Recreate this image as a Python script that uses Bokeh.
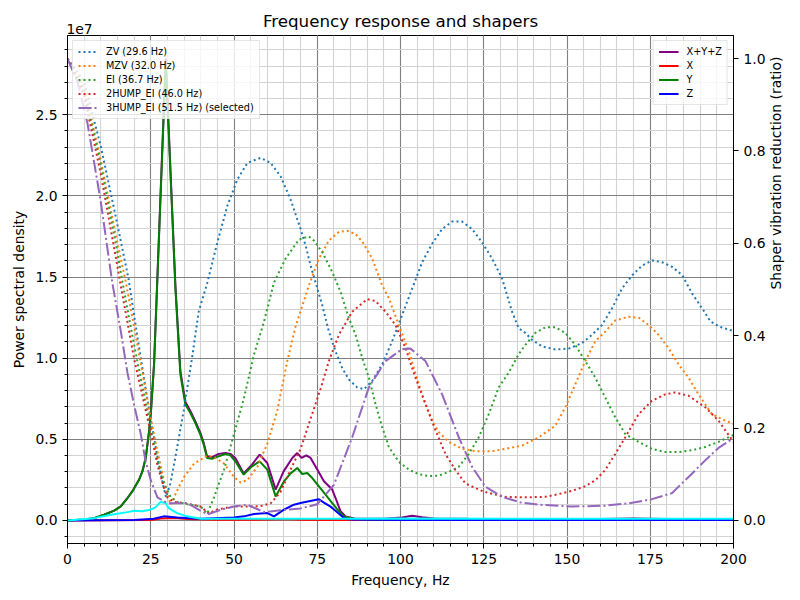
import math
from bokeh.plotting import figure
from bokeh.models import (Range1d, LinearAxis, Legend, LegendItem, SingleIntervalTicker,
                          NumeralTickFormatter, FixedTicker, CustomJSTickFormatter)
from bokeh.embed import file_html
from bokeh.resources import INLINE

FONT = "DejaVu Sans"

# ---------------- PSD data (units of 1e7) ----------------
f_xyz = [0, 5, 8, 11, 14, 16, 18, 19.5, 21.5, 22.5, 23.5, 24.5, 25, 26, 29.5, 32.4, 33.9, 35.4,
         36.9, 38.4, 39.9, 40.9, 41.9, 43.4, 45.4, 47.4, 48.9, 50.4, 52.9, 55.4, 57.7, 60, 62.5,
         64.9, 67.5, 69, 70.3, 71.7, 73, 75, 77, 79.5, 80.5, 82, 83.5, 86.5, 95, 100.5, 103.5,
         106.5, 110, 120, 140, 160, 170, 180, 200]
v_xyz = [0, 0.005, 0.014, 0.035, 0.06, 0.086, 0.138, 0.18, 0.252, 0.303, 0.387, 0.551, 0.655,
         0.968, 2.846, 1.45, 0.92, 0.73, 0.675, 0.61, 0.54, 0.478, 0.395, 0.39, 0.41, 0.415, 0.41,
         0.385, 0.29, 0.344, 0.405, 0.354, 0.19, 0.302, 0.385, 0.415, 0.385, 0.401, 0.385, 0.313,
         0.241, 0.19, 0.138, 0.056, 0.025, 0.01, 0.01, 0.018, 0.029, 0.02, 0.012, 0.01, 0.008,
         0.008, 0.012, 0.008, 0.006]

f_x = [0, 25, 28, 32, 36, 45, 55, 60, 66, 70, 80, 100, 110, 120, 130, 150, 165, 170, 175, 200]
v_x = [0, 0.002, 0.012, 0.015, 0.008, 0.004, 0.004, 0.005, 0.008, 0.004, 0.003, 0.004, 0.006,
       0.008, 0.005, 0.004, 0.007, 0.01, 0.004, 0.003]

f_y = [0, 5, 8, 11, 14, 16, 18, 19.5, 21.5, 22.5, 23.5, 24.5, 25, 26, 29.5, 32.4, 33.9, 35.4,
       36.9, 38.4, 39.9, 40.9, 41.9, 43.4, 45.4, 47.4, 48.9, 50.4, 52.9, 55.4, 57.7, 60, 62.5,
       65, 67, 69, 70.5, 72, 73.5, 75.5, 77.5, 79.5, 81.5, 83, 85.5, 90, 100, 120, 150, 200]
v_y = [0, 0.005, 0.014, 0.035, 0.06, 0.086, 0.138, 0.179, 0.251, 0.302, 0.385, 0.549, 0.652,
       0.961, 2.82, 1.43, 0.9, 0.714, 0.662, 0.6, 0.529, 0.467, 0.385, 0.38, 0.395, 0.409, 0.401,
       0.364, 0.282, 0.333, 0.364, 0.313, 0.148, 0.24, 0.29, 0.323, 0.286, 0.292, 0.261, 0.21,
       0.159, 0.107, 0.056, 0.025, 0.01, 0.006, 0.005, 0.004, 0.003, 0.003]

f_z = [0, 20, 25.9, 28.9, 32.9, 40, 50, 53, 56, 60, 62, 65, 68, 70, 72.5, 75.5, 77, 79, 81, 83,
       85, 100, 200]
v_z = [0, 0.002, 0.01, 0.025, 0.018, 0.01, 0.018, 0.025, 0.039, 0.045, 0.025, 0.066, 0.097,
       0.107, 0.118, 0.13, 0.11, 0.085, 0.05, 0.015, 0.005, 0.003, 0.002]

f_after = [0, 8, 13, 18, 20, 22.4, 24.9, 26.4, 27.9, 29.4, 30.4, 32.9, 35.9, 40, 60, 80, 100,
           150, 200]
v_after = [0, 0.014, 0.035, 0.051, 0.06, 0.056, 0.066, 0.08, 0.113, 0.107, 0.076, 0.045, 0.025,
           0.01, 0.01, 0.01, 0.012, 0.01, 0.01]

# ---------------- Shaper responses (ratio) ----------------
f_zv = [0, 5, 10, 15, 18.3, 20.9, 23.4, 25.4, 27.4, 28.9, 29.6, 30.9, 32.4, 34.9, 37.4, 39.4,
        42, 45, 48, 51, 54, 58, 61, 64, 67, 70, 71.5, 73, 74.5, 76.5, 78.5, 80.5, 82.5, 84.5,
        87, 89, 91.5, 94.5, 97.5, 100.5, 103.5, 106.5, 109.5, 112.5, 115.5, 118.5, 121.5,
        124.5, 127.5, 130.5, 133.5, 135.5, 137.5, 139.5, 142.5, 146.5, 150.5, 154.5, 157.5,
        160.5, 163.5, 166.5, 169.6, 172.6, 175.6, 178.6, 181.6, 184.6, 187.6, 190.6, 193.1,
        195.6, 198.6, 200]
r_zv = [1.0, 0.95, 0.81, 0.64, 0.524, 0.402, 0.288, 0.202, 0.123, 0.07, 0.05, 0.08, 0.137,
        0.238, 0.352, 0.452, 0.515, 0.602, 0.681, 0.738, 0.774, 0.785, 0.774, 0.745, 0.695,
        0.631, 0.595, 0.552, 0.515, 0.466, 0.409, 0.366, 0.33, 0.305, 0.288, 0.284, 0.302,
        0.338, 0.388, 0.445, 0.502, 0.559, 0.599, 0.631, 0.647, 0.647, 0.631, 0.602, 0.567,
        0.524, 0.452, 0.416, 0.406, 0.391, 0.377, 0.37, 0.372, 0.384, 0.402, 0.423, 0.459,
        0.502, 0.531, 0.552, 0.563, 0.559, 0.549, 0.531, 0.491, 0.459, 0.431, 0.42, 0.413,
        0.41]

f_mzv = [0, 5, 10, 15, 17.4, 20, 22.5, 25, 27, 29, 31, 33, 35, 38, 42, 44, 47, 50, 52, 54, 57,
         60, 63, 66, 68.5, 72.5, 75.5, 78.5, 81.5, 84, 86.5, 88.5, 91.5, 94.5, 96.5, 99.5, 102.5,
         105.5, 107.5, 109.5, 111.5, 114.5, 118.5, 122.5, 127.5, 131.5, 136.5, 141.5, 146.5,
         149.5, 152.5, 155.5, 158.5, 161.5, 164.5, 168.5, 171.5, 174.5, 177.5, 180.5, 183.5,
         186.5, 189.5, 193.5, 197.5, 200]
r_mzv = [1.0, 0.94, 0.78, 0.6, 0.52, 0.42, 0.32, 0.22, 0.15, 0.085, 0.034, 0.066, 0.094, 0.123,
         0.14, 0.137, 0.123, 0.094, 0.082, 0.087, 0.116, 0.166, 0.238, 0.345, 0.42, 0.509,
         0.567, 0.606, 0.625, 0.627, 0.62, 0.604, 0.567, 0.509, 0.481, 0.423, 0.366, 0.295,
         0.252, 0.216, 0.191, 0.17, 0.155, 0.15, 0.15, 0.155, 0.162, 0.18, 0.205, 0.245, 0.295,
         0.345, 0.388, 0.409, 0.433, 0.441, 0.439, 0.423, 0.402, 0.373, 0.338, 0.309, 0.273,
         0.23, 0.216, 0.209]

f_ei = [0, 5, 10, 15, 16.4, 20, 22.5, 25, 27, 29, 31, 33, 36, 40, 42, 44, 47, 50, 53, 56, 59,
        62, 65.5, 69.5, 72.5, 74, 76.5, 79.5, 82, 84.5, 86.5, 88.5, 90.5, 92.5, 94.5, 96.5,
        99.5, 102.5, 105.5, 108.5, 111.5, 114.5, 117.5, 120.5, 123.5, 126.5, 129.5, 132.5,
        135.5, 137.5, 140.5, 143.5, 146.5, 149.5, 152.5, 155.5, 158.5, 161.5, 164.5, 167.5,
        171.5, 175.5, 179.5, 183.5, 187.5, 191.5, 195.5, 200]
r_ei = [1.0, 0.93, 0.77, 0.58, 0.52, 0.38, 0.29, 0.2, 0.13, 0.08, 0.05, 0.04, 0.035, 0.03,
        0.015, 0.05, 0.11, 0.187, 0.265, 0.359, 0.43, 0.515, 0.567, 0.608, 0.615, 0.606, 0.581,
        0.538, 0.495, 0.438, 0.402, 0.352, 0.309, 0.252, 0.202, 0.159, 0.127, 0.11, 0.1, 0.096,
        0.097, 0.105, 0.116, 0.144, 0.18, 0.23, 0.288, 0.32, 0.36, 0.38, 0.406, 0.418, 0.418,
        0.406, 0.38, 0.345, 0.309, 0.266, 0.223, 0.187, 0.17, 0.155, 0.148, 0.148, 0.152,
        0.159, 0.17, 0.185]

f_2hump = [0, 5, 10, 15, 15.7, 20, 22.5, 25, 27, 29, 30, 32, 35, 40, 42.4, 45, 50, 55, 58, 61,
           64, 67, 70, 73, 76, 78.5, 81.5, 85.5, 90, 92.5, 95.5, 98.5, 101.5, 104.5, 107.5,
           110.5, 113.5, 116.5, 119.5, 125, 131.5, 137, 143.5, 147.5, 151.5, 155.5, 158.5,
           161.5, 164.5, 167.5, 171.5, 175.5, 179.5, 182.5, 186.5, 191.5, 195.5, 200]
r_2hump = [1.0, 0.92, 0.75, 0.55, 0.52, 0.35, 0.27, 0.19, 0.12, 0.07, 0.05, 0.04, 0.038, 0.03,
           0.015, 0.024, 0.03, 0.03, 0.031, 0.037, 0.062, 0.11, 0.155, 0.22, 0.285, 0.345,
           0.402, 0.452, 0.479, 0.475, 0.452, 0.423, 0.373, 0.309, 0.252, 0.195, 0.144, 0.109,
           0.08, 0.062, 0.051, 0.05, 0.051, 0.057, 0.064, 0.074, 0.087, 0.109, 0.144, 0.18,
           0.23, 0.259, 0.273, 0.277, 0.27, 0.245, 0.216, 0.17]

f_3hump = [0, 3, 6, 10, 13.4, 16, 18, 20, 22, 23.4, 25, 27, 30, 36, 42, 46, 50, 54, 59, 64, 70,
           75, 80, 85.5, 90.5, 95.5, 100.5, 103, 107.5, 112.5, 117.5, 121.5, 125.5, 130.5, 136,
           141.5, 151.5, 161.5, 168.5, 175.5, 181.5, 186.5, 191.5, 195.5, 200]
r_3hump = [1.0, 0.95, 0.86, 0.69, 0.517, 0.41, 0.32, 0.25, 0.187, 0.13, 0.087, 0.05, 0.037,
           0.037, 0.013, 0.023, 0.03, 0.034, 0.018, 0.022, 0.026, 0.035, 0.077, 0.18, 0.288,
           0.345, 0.371, 0.372, 0.345, 0.273, 0.18, 0.116, 0.073, 0.051, 0.039, 0.034, 0.03,
           0.032, 0.037, 0.046, 0.059, 0.094, 0.13, 0.157, 0.178]

psd_labels = ["X+Y+Z", "X", "Y", "Z"]
shaper_labels = ["ZV (29.6 Hz)", "MZV (32.0 Hz)", "EI (36.7 Hz)", "2HUMP_EI (46.0 Hz)",
                 "3HUMP_EI (51.5 Hz) (selected)"]
title_text = "Frequency response and shapers"
offset_text = "1e7"
right_label = "Shaper vibration reduction (ratio)"

psd_max = max(v_xyz)

W, H = 800, 600
ML, MR, MT, MB = 67, 67, 35, 57

p = figure(width=W, height=H, output_backend="svg", toolbar_location=None,
           x_range=Range1d(0, 200), y_range=Range1d(-0.05 * psd_max, 1.05 * psd_max),
           min_border_left=ML, min_border_right=MR, min_border_top=MT, min_border_bottom=MB)
p.extra_y_ranges = {"ratio": Range1d(-0.05, 1.05)}
p.background_fill_color = "white"
p.border_fill_color = "white"
p.outline_line_color = "black"
p.outline_line_width = 1


def style_text(ax):
    ax.major_label_text_font = FONT
    ax.major_label_text_font_size = "13.9px"
    ax.major_label_text_color = "black"
    ax.axis_label_text_font = FONT
    ax.axis_label_text_font_size = "13.9px"
    ax.axis_label_text_font_style = "normal"
    ax.axis_label_text_color = "black"


# axes
for ax in [p.xaxis[0], p.yaxis[0]]:
    style_text(ax)
    ax.major_tick_out = 5
    ax.major_tick_in = 0
    ax.minor_tick_out = 3
    ax.minor_tick_in = 0
    ax.axis_line_color = "black"

p.xaxis[0].ticker = SingleIntervalTicker(interval=25, num_minor_ticks=5)
p.xaxis[0].axis_label = "Frequency, Hz"
p.yaxis[0].ticker = SingleIntervalTicker(interval=0.5, num_minor_ticks=5)
p.yaxis[0].formatter = NumeralTickFormatter(format="0.0")
p.yaxis[0].axis_label = "Power spectral density"

ax2 = LinearAxis(y_range_name="ratio",
                 ticker=SingleIntervalTicker(interval=0.2, num_minor_ticks=0),
                 formatter=NumeralTickFormatter(format="0.0"))
style_text(ax2)
ax2.major_tick_out = 5
ax2.major_tick_in = 0
ax2.minor_tick_out = 0
ax2.axis_line_color = "black"
p.add_layout(ax2, "right")

# right-axis label drawn as a rotated single tick label (reads bottom to top)
ax3 = LinearAxis(y_range_name="ratio", ticker=FixedTicker(ticks=[0.5]),
                 formatter=CustomJSTickFormatter(code="return %r;" % right_label),
                 major_label_orientation=math.pi / 2, major_label_standoff=7)
style_text(ax3)
ax3.axis_line_color = None
ax3.major_tick_line_color = None
ax3.minor_tick_line_color = None
ax3.major_tick_out = 0
ax3.major_tick_in = 0
p.add_layout(ax3, "right")

# top: title as axis label, scientific offset "1e7" as a single tick label
axt = LinearAxis(ticker=FixedTicker(ticks=[3.6]),
                 formatter=CustomJSTickFormatter(code="return %r;" % offset_text),
                 major_label_standoff=2, axis_label=title_text)
style_text(axt)
axt.axis_label_text_font_size = "16.7px"
axt.axis_line_color = None
axt.major_tick_line_color = None
axt.minor_tick_line_color = None
axt.major_tick_out = 0
axt.major_tick_in = 0
try:
    axt.axis_label_standoff = -10
except Exception:
    axt.axis_label_standoff = 0
p.add_layout(axt, "above")

# grid
for g in [p.xgrid[0], p.ygrid[0]]:
    g.grid_line_color = "grey"
    g.grid_line_width = 1.1
    g.minor_grid_line_color = "lightgrey"
    g.minor_grid_line_width = 1.1

# PSD lines
psd_colors = ["purple", "red", "green", "blue"]
psd_data = [(f_xyz, v_xyz), (f_x, v_x), (f_y, v_y), (f_z, v_z)]
psd_items = []
for lab, col, (fx, fv) in zip(psd_labels, psd_colors, psd_data):
    assert len(fx) == len(fv), lab
    r = p.line(fx, fv, line_color=col, line_width=2)
    psd_items.append(LegendItem(label=lab, renderers=[r]))
assert len(f_after) == len(v_after)
p.line(f_after, v_after, line_color="cyan", line_width=2)

# shaper lines
sh_colors = ["#1f77b4", "#ff7f0e", "#2ca02c", "#d62728", "#9467bd"]
sh_dash = ["2 3", "2 3", "2 3", "2 3", "13 3 2 3"]
sh_data = [(f_zv, r_zv), (f_mzv, r_mzv), (f_ei, r_ei), (f_2hump, r_2hump), (f_3hump, r_3hump)]
sh_items = []
for lab, col, dash, (fx, fr) in zip(shaper_labels, sh_colors, sh_dash, sh_data):
    assert len(fx) == len(fr), lab
    r = p.line(fx, fr, line_color=col, line_width=2, line_dash=dash, y_range_name="ratio")
    sh_items.append(LegendItem(label=lab, renderers=[r]))


def style_legend(leg):
    leg.label_text_font = FONT
    leg.label_text_font_size = "9.7px"
    leg.label_text_color = "black"
    leg.label_height = 11
    leg.glyph_height = 11
    leg.glyph_width = 20
    leg.label_standoff = 8
    leg.spacing = 3
    leg.padding = 5
    leg.margin = 5
    leg.border_line_color = "#cccccc"
    leg.border_line_width = 1
    leg.background_fill_color = "white"
    leg.background_fill_alpha = 0.8


leg1 = Legend(items=sh_items, location="top_left")
style_legend(leg1)
leg2 = Legend(items=psd_items, location="top_right")
style_legend(leg2)
p.add_layout(leg1)
p.add_layout(leg2)

open("out.html", "w").write(file_html(p, INLINE))
